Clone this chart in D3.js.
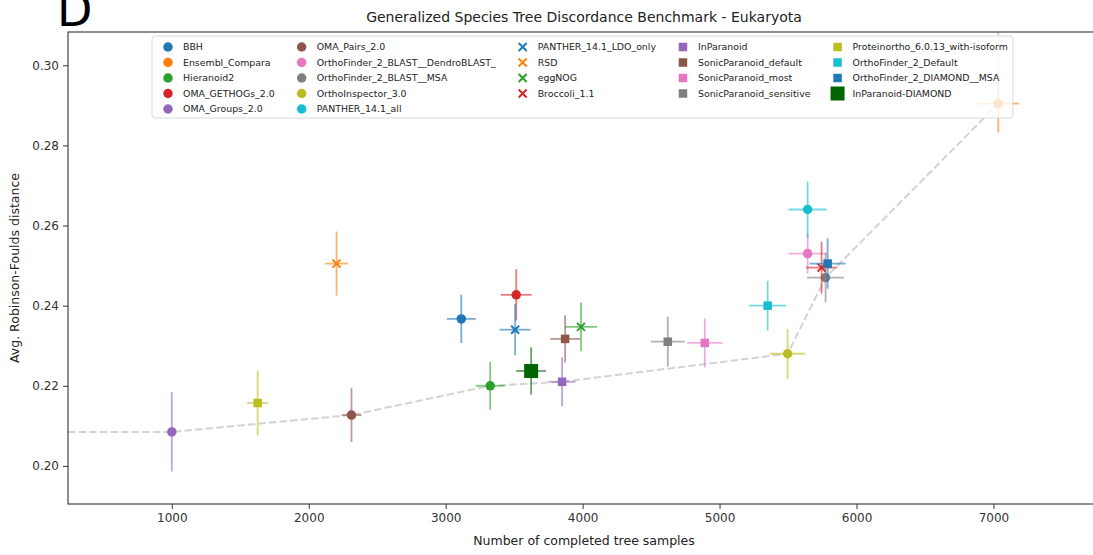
<!DOCTYPE html>
<html>
<head>
<meta charset="utf-8">
<script src="https://cdn.jsdelivr.net/npm/d3@7"></script>
<style>
  body { margin: 0; background: #fff; }
  svg { font-family: "DejaVu Sans", sans-serif; }
</style>
</head>
<body>
<div id="chart"></div>
<script>
// **   data   **
// methods in legend order
const methods = [
  "BBH", "Ensembl_Compara", "Hieranoid2", "OMA_GETHOGs_2.0", "OMA_Groups_2.0",
  "OMA_Pairs_2.0", "OrthoFinder_2_BLAST__DendroBLAST_", "OrthoFinder_2_BLAST__MSA",
  "OrthoInspector_3.0", "PANTHER_14.1_all",
  "PANTHER_14.1_LDO_only", "RSD", "eggNOG", "Broccoli_1.1",
  "InParanoid", "SonicParanoid_default", "SonicParanoid_most", "SonicParanoid_sensitive",
  "Proteinortho_6.0.13_with-isoform", "OrthoFinder_2_Default", "OrthoFinder_2_DIAMOND__MSA",
  "InParanoid-DIAMOND"
];
// number of completed tree samples (x)
const treeSamples = [
  3114, 7035, 3325, 3515, 1000,
  2312, 5643, 5774, 5497, 5643,
  3507, 2203, 3988, 5745,
  3850, 3872, 4892, 4622,
  1627, 5351, 5789, 3624
];
// avg. Robinson-Foulds distance (y)
const rfDistance = [
  0.2367, 0.2904, 0.2200, 0.2427, 0.2085,
  0.2127, 0.2530, 0.2470, 0.2280, 0.2640,
  0.2340, 0.2505, 0.2347, 0.2495,
  0.2210, 0.2317, 0.2307, 0.2310,
  0.2157, 0.2400, 0.2505, 0.2237
];
// error on x
const sampleErr = [
  106, 153, 106, 113, 25,
  73, 139, 135, 128, 139,
  113, 85, 117, 113,
  98, 109, 128, 124,
  77, 135, 131, 109
];
// error on y
const rfErr = [
  0.0060, 0.0072, 0.0060, 0.0064, 0.0099,
  0.0067, 0.0050, 0.0062, 0.0062, 0.0070,
  0.0064, 0.0080, 0.0061, 0.0065,
  0.0061, 0.0059, 0.0061, 0.0062,
  0.0081, 0.0062, 0.0063, 0.0059
];
// methods on the pareto front (dashed line), left to right
const paretoFront = [
  "OMA_Groups_2.0", "OMA_Pairs_2.0", "Hieranoid2", "InParanoid",
  "OrthoInspector_3.0", "OrthoFinder_2_BLAST__MSA", "Ensembl_Compara"
];
const xTicks = [1000, 2000, 3000, 4000, 5000, 6000, 7000];
const yTicks = [0.20, 0.22, 0.24, 0.26, 0.28, 0.30];

// **   styles   **
const tab10 = ["#1f77b4","#ff7f0e","#2ca02c","#d62728","#9467bd","#8c564b","#e377c2","#7f7f7f","#bcbd22","#17becf"];
const styleOf = (i) => {
  if (i < 10) return {shape: "circle", color: tab10[i], size: 9.5};
  if (i < 14) return {shape: "x", color: tab10[i - 10], size: 8};
  if (i === 21) return {shape: "square", color: "#006400", size: 14};
  // squares continue the colour cycle from purple, wrapping back to blue
  return {shape: "square", color: tab10[(4 + (i - 14)) % 10], size: 8.5};
};

const points = methods.map((m, i) => ({
  name: m, x: treeSamples[i], y: rfDistance[i], xe: sampleErr[i], ye: rfErr[i], ...styleOf(i)
}));

// **   canvas   **
const wid = 1093, hei = 555;
const padL = 68, padR = 1100, padT = 32, padB = 504;

const svg = d3.select("#chart").append("svg")
  .attr("width", wid).attr("height", hei);

const xScale = d3.scaleLinear().domain([242, 7778]).range([padL, padR]);
const yScale = d3.scaleLinear().domain([0.1905, 0.3083]).range([padB, padT]);

svg.append("clipPath").attr("id", "plotClip")
  .append("rect").attr("x", padL).attr("y", padT)
  .attr("width", padR - padL).attr("height", padB - padT);

const plot = svg.append("g").attr("clip-path", "url(#plotClip)");

// pareto front, extended flat to the left and straight up at the end
const frontPts = paretoFront.map(n => points.find(p => p.name === n));
const linePts = [[xScale.domain()[0], frontPts[0].y]]
  .concat(frontPts.map(p => [p.x, p.y]))
  .concat([[frontPts[frontPts.length - 1].x, yScale.domain()[1]]]);

plot.append("path")
  .attr("d", d3.line().x(d => xScale(d[0])).y(d => yScale(d[1]))(linePts))
  .attr("fill", "none")
  .attr("stroke", "#d3d3d3")
  .attr("stroke-width", 2)
  .attr("stroke-dasharray", "7.4,3.2");

// draws one marker of a given style at cx,cy
function drawMarker(g, p, cx, cy) {
  const s = p.size;
  if (p.shape === "circle") {
    g.append("circle").attr("cx", cx).attr("cy", cy).attr("r", s / 2).attr("fill", p.color);
  } else if (p.shape === "square") {
    g.append("rect").attr("x", cx - s / 2).attr("y", cy - s / 2)
      .attr("width", s).attr("height", s).attr("fill", p.color);
  } else {
    const h = s / 2;
    g.append("path")
      .attr("d", `M${cx - h},${cy - h}L${cx + h},${cy + h}M${cx - h},${cy + h}L${cx + h},${cy - h}`)
      .attr("stroke", p.color).attr("stroke-width", 2).attr("fill", "none");
  }
}

// error bars + markers
points.forEach(p => {
  const g = plot.append("g");
  const cx = xScale(p.x), cy = yScale(p.y);
  g.append("line")
    .attr("x1", xScale(p.x - p.xe)).attr("x2", xScale(p.x + p.xe))
    .attr("y1", cy).attr("y2", cy)
    .attr("stroke", p.color).attr("stroke-width", 1.8).attr("stroke-opacity", 0.6);
  g.append("line")
    .attr("x1", cx).attr("x2", cx)
    .attr("y1", yScale(p.y - p.ye)).attr("y2", yScale(p.y + p.ye))
    .attr("stroke", p.color).attr("stroke-width", 1.8).attr("stroke-opacity", 0.6);
  drawMarker(g, p, cx, cy);
});

// **   axes   **
const xAxis = d3.axisBottom(xScale).tickValues(xTicks).tickSize(5).tickPadding(4).tickFormat(d3.format("d"));
const yAxis = d3.axisLeft(yScale).tickValues(yTicks).tickSize(5).tickPadding(4).tickFormat(d3.format(".2f"));

const gx = svg.append("g").attr("transform", `translate(0,${padB})`).call(xAxis);
const gy = svg.append("g").attr("transform", `translate(${padL},0)`).call(yAxis);
[gx, gy].forEach(g => {
  g.select(".domain").remove();
  g.selectAll(".tick line").attr("stroke", "#333");
  g.selectAll(".tick text").attr("fill", "#333").style("font-size", "12px")
    .style("font-family", "'DejaVu Sans', sans-serif");
});

// frame
svg.append("rect")
  .attr("x", padL).attr("y", padT)
  .attr("width", padR - padL).attr("height", padB - padT)
  .attr("fill", "none").attr("stroke", "#333").attr("stroke-width", 1.1);

// **   legend   **
const legFont = 9.4;
const legG = svg.append("g");
const legBox = legG.append("rect");
const rowY = (r) => 47 + r * 15.5;
const cols = [points.slice(0, 5), points.slice(5, 10), points.slice(10, 14), points.slice(14, 18), points.slice(18)];
let markX = 168;
let lastEnd = 0;
cols.forEach(col => {
  let maxW = 0;
  col.forEach((p, r) => {
    drawMarker(legG, p, markX, rowY(r));
    const t = legG.append("text")
      .attr("x", markX + 15).attr("y", rowY(r))
      .attr("dy", "0.35em")
      .style("font-size", legFont + "px")
      .attr("fill", "#222")
      .text(p.name);
    maxW = Math.max(maxW, t.node().getComputedTextLength());
  });
  lastEnd = markX + 15 + maxW;
  markX = lastEnd + 27;
});
legBox.attr("x", 152).attr("y", 36)
  .attr("width", lastEnd + 5 - 152).attr("height", 82)
  .attr("rx", 3)
  .attr("fill", "#fff").attr("fill-opacity", 0.8)
  .attr("stroke", "#d9d9d9").attr("stroke-width", 1);

// **   labels   **
svg.append("text")
  .attr("x", (padL + padR) / 2).attr("y", 22)
  .attr("text-anchor", "middle")
  .style("font-size", "14px")
  .attr("fill", "#222")
  .text("Generalized Species Tree Discordance Benchmark - Eukaryota");

svg.append("text")
  .attr("x", (padL + padR) / 2).attr("y", 545)
  .attr("text-anchor", "middle")
  .style("font-size", "12.5px")
  .attr("fill", "#222")
  .text("Number of completed tree samples");

svg.append("text")
  .attr("transform", `translate(19,${(padT + padB) / 2}) rotate(-90)`)
  .attr("text-anchor", "middle")
  .style("font-size", "12.5px")
  .attr("fill", "#222")
  .text("Avg. Robinson-Foulds distance");

// panel letter (clipped at the top, as in the original figure)
svg.append("text")
  .attr("x", 57).attr("y", 26)
  .style("font-size", "46px")
  .attr("fill", "#000")
  .text("D");
</script>
</body>
</html>
